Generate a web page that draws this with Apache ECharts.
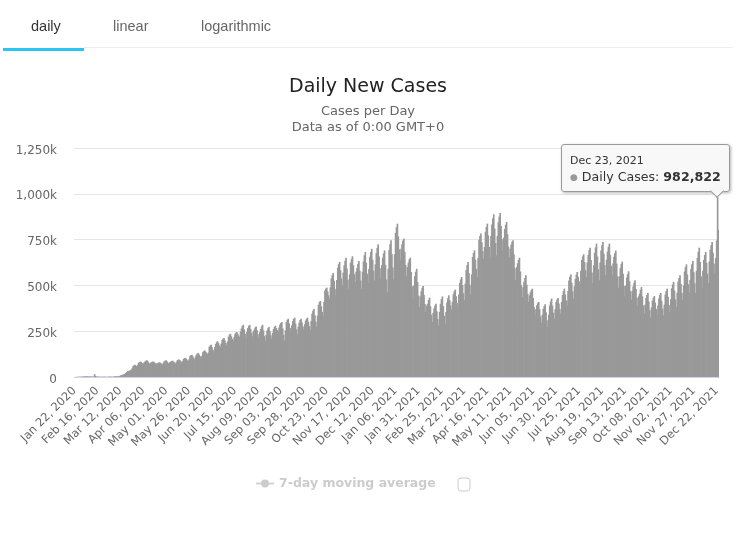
<!DOCTYPE html>
<html>
<head>
<meta charset="utf-8">
<script src="https://cdn.jsdelivr.net/npm/echarts@6/dist/echarts.min.js"></script>
<style>
html,body{margin:0;padding:0;background:#fff;}
#main{width:740px;height:533px;}
</style>
</head>
<body>
<div id="main"></div>
<script>
// daily new cases in thousands, one row per week (Wed..Tue), starts Jan 22 2020
var dailyCases = [
0,0,1,1,1,1,2, 2,2,2,3,3,3,4, 4,3,3,3,3,3,2, 2,15,6,2,2,2,2,
1,1,1,1,2,2,1, 1,1,2,2,2,2,2, 2,3,3,4,4,3,4, 5,7,11,11,14,14,18,
22,27,32,33,34,38,41, 48,60,64,67,62,58,67,
78,82,84,80,76,72,80, 85,89,91,85,78,72,78, 81,83,85,80,75,70,75, 77,79,80,76,72,69,78,
86,89,91,85,78,72,80, 85,87,89,84,79,74,80, 90,94,96,91,85,80,88, 99,103,105,99,92,87,97,
114,119,122,113,103,95,112, 122,128,131,122,113,105,116, 135,141,145,138,130,124,134,
165,172,176,162,148,136,163, 180,190,195,184,173,164,182, 202,209,213,199,185,173,194,
220,231,236,222,208,197,217, 233,241,245,236,226,218,248, 265,278,285,260,236,215,245,
268,279,285,263,241,222,248, 258,270,276,255,233,215,245, 262,276,285,254,223,197,230,
254,266,273,251,228,209,240, 262,273,280,268,256,246,270, 287,295,300,265,230,200,255,
300,312,318,293,268,246,282, 305,317,324,292,260,233,275, 297,311,318,297,276,258,288,
308,318,324,301,278,258,305, 345,361,371,337,302,273,335, 394,408,415,386,356,331,410,
472,482,488,467,446,428,490, 538,556,568,525,482,446,530, 596,616,628,583,538,500,570,
609,634,651,592,532,482,560, 624,645,659,610,561,519,575, 595,618,633,580,527,482,575,
630,664,682,623,564,513,590, 657,683,700,640,580,528,615, 677,705,724,658,593,537,610,
651,675,691,612,532,464,590, 693,725,746,671,597,533,670, 787,817,837,767,697,637,700,
725,745,755,683,612,550,600, 625,642,651,573,495,428,500, 550,575,591,518,445,382,440,
468,487,497,447,398,355,390, 400,420,433,386,340,300,350, 375,390,400,359,317,282,355,
400,425,440,387,334,288,355, 407,430,446,419,391,368,410, 451,467,477,441,404,373,450,
514,533,546,502,457,419,510, 584,610,628,566,504,451,560, 655,677,691,640,590,546,650,
749,769,783,735,687,646,710, 792,819,837,773,710,655,770, 832,866,888,810,731,664,770,
844,875,895,824,752,691,760, 808,831,846,779,712,655,700, 723,738,746,670,593,528,600,
620,639,651,576,501,437,490, 520,541,555,504,454,410,445, 463,475,482,431,381,337,370,
392,403,410,370,330,295,340, 372,387,397,354,310,273,340, 390,412,428,390,351,318,370,
410,423,431,401,371,346,410, 448,469,482,450,418,391,470, 527,547,560,514,468,428,495,
535,559,573,547,522,500,580, 639,658,670,627,583,546,625, 666,692,706,638,571,513,610,
678,708,728,658,588,528,625, 691,719,737,673,610,555,640, 685,711,728,667,607,555,620,
656,676,690,619,549,488,550, 594,616,630,563,497,440,500, 543,562,577,522,468,422,470,
494,514,528,480,432,391,440, 455,477,491,440,390,346,395, 431,448,459,412,365,324,380,
417,432,442,406,371,340,390, 429,447,459,416,374,337,395, 450,469,482,438,393,355,425,
484,505,519,471,423,382,460, 521,541,555,507,459,419,500, 576,600,615,560,506,459,530,
589,615,633,572,511,459,580, 650,684,706,628,550,482,580, 640,666,683,623,564,513,630,
695,720,737,678,619,568,650,
745,982.822,804
];
var yTicks = [0, 250, 500, 750, 1000, 1250];
var tabNames = ['daily', 'linear', 'logarithmic'];
var tooltipIndex = 701; // Dec 23, 2021

var categories = [];
for (var i = 0; i < dailyCases.length; i++) {
	var d = new Date(Date.UTC(2020, 0, 22 + i));
	categories.push(d.toLocaleDateString('en-US', {month: 'short', day: '2-digit', year: 'numeric', timeZone: 'UTC'}));
}

var font = '"DejaVu Sans", sans-serif';
var myChart = echarts.init(document.getElementById('main'));
var option = {
	animation: false,
	title: {
		text: 'Daily New Cases',
		subtext: 'Cases per Day\nData as of 0:00 GMT+0',
		left: 363,
		textAlign: 'center',
		top: 73,
		itemGap: 7,
		textStyle: {fontFamily: font, fontSize: 19, fontWeight: 'normal', color: '#222'},
		subtextStyle: {fontFamily: font, fontSize: 13, color: '#666', lineHeight: 16}
	},
	grid: {left: 74, right: 21, top: 148, bottom: 156},
	legend: {
		left: 250,
		top: 472,
		itemWidth: 18,
		itemHeight: 10,
		data: ['7-day moving average'],
		selected: {'7-day moving average': false},
		inactiveColor: '#ccc',
		inactiveBorderColor: '#ccc',
		textStyle: {fontFamily: font, fontSize: 12.5, fontWeight: 'bold', color: '#ccc'}
	},
	tooltip: {
		trigger: 'item',
		alwaysShowContent: true,
		transitionDuration: 0,
		position: [561, 144],
		padding: [9, 8],
		backgroundColor: 'rgba(247,247,247,0.9)',
		borderColor: '#999',
		borderWidth: 1,
		borderRadius: 3,
		extraCssText: 'box-shadow:1px 1px 3px rgba(0,0,0,0.3);width:151px;height:28px;overflow:visible;',
		formatter: function (p) {
			var val = Math.round(p.value * 1000).toLocaleString('en-US');
			return '<div style="font:11px/14px ' + "'DejaVu Sans'" + ';color:#333;">' + p.name + '</div>' +
				'<div style="font:12.6px/18px ' + "'DejaVu Sans'" + ';color:#333;white-space:nowrap;"><span style="color:#999;font-size:9px;vertical-align:1px;">\u25CF</span> Daily Cases: <b>' + val + '</b></div>' +
				'<div style="position:absolute;left:150px;top:41px;width:9px;height:9px;background:#f7f7f7;border-right:1px solid #999;border-bottom:1px solid #999;transform:rotate(45deg);"></div>';
		}
	},
	xAxis: {
		type: 'category',
		data: categories,
		axisLine: {lineStyle: {color: '#ccd6eb'}},
		axisTick: {show: false},
		axisLabel: {interval: 24, rotate: 45, margin: 12, fontFamily: font, fontSize: 11.5, color: '#666'}
	},
	yAxis: {
		type: 'value',
		min: 0,
		max: yTicks[yTicks.length - 1],
		interval: 250,
		axisLine: {show: false},
		axisTick: {show: false},
		splitLine: {lineStyle: {color: '#e6e6e6'}},
		axisLabel: {
			margin: 17,
			formatter: function (v) { return '{t|' + (v === 0 ? '0' : v.toLocaleString('en-US') + 'k') + '}'; },
			rich: {t: {fontFamily: font, fontSize: 12, color: '#666', padding: [5, 0, 0, 0]}}
		}
	},
	series: [
		{
			name: 'Daily Cases',
			type: 'bar',
			data: dailyCases,
			barWidth: 1.7,
			itemStyle: {color: '#999'},
			emphasis: {disabled: true}
		},
		{
			name: '7-day moving average',
			type: 'line',
			data: [],
			symbol: 'circle',
			symbolSize: 8,
			itemStyle: {color: '#ccc'}
		}
	],
	graphic: [
		{type: 'text', left: 31, top: 19, style: {text: tabNames[0], font: '14.5px "Liberation Sans"', fill: '#333'}},
		{type: 'text', left: 113, top: 19, style: {text: tabNames[1], font: '14.5px "Liberation Sans"', fill: '#666'}},
		{type: 'text', left: 201, top: 19, style: {text: tabNames[2], font: '14.5px "Liberation Sans"', fill: '#666'}},
		{type: 'rect', shape: {x: 84, y: 47, width: 649, height: 1}, style: {fill: '#eee'}},
		{type: 'rect', shape: {x: 3, y: 48, width: 81, height: 3}, style: {fill: '#2bc5f4'}},
		{type: 'rect', shape: {x: 458, y: 478, width: 12, height: 13, r: 3}, style: {fill: '#fff', stroke: '#ccc', lineWidth: 1}}
	]
};
myChart.setOption(option);
myChart.dispatchAction({type: 'showTip', seriesIndex: 0, dataIndex: tooltipIndex});
</script>
</body>
</html>
